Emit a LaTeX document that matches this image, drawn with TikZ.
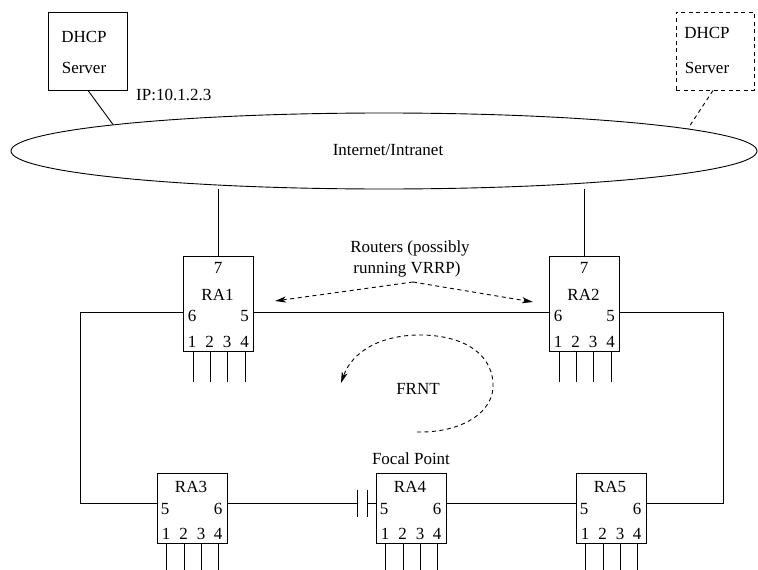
\documentclass[tikz,border=0pt]{standalone}
\usepackage{fontspec}
\setmainfont{Liberation Serif}
\usetikzlibrary{shapes.geometric,arrows.meta,calc}

\tikzset{
  every node/.style={inner sep=0pt, font=\fontsize{17}{20}\selectfont},
  wire/.style={line width=0.9pt},
  dashwire/.style={line width=0.9pt, dash pattern=on 4pt off 3.5pt},
  rbox/.style={draw, line width=0.9pt, minimum width=70pt, anchor=north west},
  lbl/.style={text height=11.4pt, text depth=0pt, anchor=center},
  tip/.style={-{Stealth[length=11pt,width=6pt,inset=3pt]}},
}

% top router: name, left, top, label
\newcommand{\toprouter}[4]{%
  \node[rbox, minimum height=95pt] (#1) at (#2,#3) {};
  \node[lbl] (#1-7) at ($(#1.north west)+(35,11.5)$) {7};
  \node[lbl] (#1-n) at ($(#1.north west)+(34.5,38.5)$) {#4};
  \node[lbl] (#1-6) at ($(#1.north west)+(9,60)$) {6};
  \node[lbl] (#1-5) at ($(#1.north west)+(61.5,60)$) {5};
  \node[lbl] (#1-d1) at ($(#1.north west)+(9,85.5)$) {1};
  \node[lbl] (#1-d2) at ($(#1.north west)+(26.5,85.5)$) {2};
  \node[lbl] (#1-d3) at ($(#1.north west)+(44,85.5)$) {3};
  \node[lbl] (#1-d4) at ($(#1.north west)+(61.5,85.5)$) {4};
  \coordinate (#1p6) at ($(#1.north west)+(0,56)$);
  \coordinate (#1p5) at ($(#1.north east)+(0,56)$);
  \foreach \px in {10,27,44,62}{\draw[wire] ($(#1.south west)+(\px,0)$) -- ++(0,30);}
}
% bottom router: name, left, top, label
\newcommand{\botrouter}[4]{%
  \node[rbox, minimum height=70pt] (#1) at (#2,#3) {};
  \node[lbl] (#1-n) at ($(#1.north west)+(34,14)$) {#4};
  \node[lbl] (#1-5) at ($(#1.north west)+(8,36)$) {5};
  \node[lbl] (#1-6) at ($(#1.north west)+(61,36)$) {6};
  \node[lbl] (#1-d1) at ($(#1.north west)+(9,61)$) {1};
  \node[lbl] (#1-d2) at ($(#1.north west)+(26.5,61)$) {2};
  \node[lbl] (#1-d3) at ($(#1.north west)+(44,61)$) {3};
  \node[lbl] (#1-d4) at ($(#1.north west)+(61,61)$) {4};
  \coordinate (#1p5) at ($(#1.north west)+(0,30)$);
  \coordinate (#1p6) at ($(#1.north east)+(0,30)$);
  \foreach \px in {9,27,44,61}{\draw[wire] ($(#1.south west)+(\px,0)$) -- ++(0,28);}
}

\begin{document}
\begin{tikzpicture}[x=1pt,y=-1pt]
\useasboundingbox (0,0) rectangle (758,570);

% network cloud
\node[ellipse, draw, line width=0.9pt, minimum width=746pt, minimum height=76pt] (net) at (384,151) {};
\node[lbl] (nettext) at (388,150) {Internet/Intranet};
\coordinate (netl) at ($(net.center)+(-271,-26.5)$);
\coordinate (netr) at ($(net.center)+(304,-22.5)$);

% DHCP servers
\node[draw, line width=0.9pt, minimum width=79pt, minimum height=78pt] (dhcp1) at (87.5,51) {};
\node[align=center, font=\fontsize{17}{31}\selectfont] (dhcp1t) at (84,52.5) {DHCP\\Server};
\node[draw, dashwire, minimum width=78pt, minimum height=78pt] (dhcp2) at (715,51) {};
\node[align=center, font=\fontsize{17}{35}\selectfont] (dhcp2t) at (707,50) {DHCP\\Server};
\node[anchor=base west] (ip) at (136,100) {IP:10.1.2.3};

\draw[wire] ($(dhcp1.south)+(0.5,0)$) -- (netl);
\draw[dashwire] ($(dhcp2.south)+(-2,0)$) -- (netr);

% routers
\toprouter{ra1}{183}{256}{RA1}
\toprouter{ra2}{549}{256}{RA2}
\botrouter{ra3}{157}{473}{RA3}
\botrouter{ra4}{376}{473}{RA4}
\botrouter{ra5}{576}{473}{RA5}

\draw[wire] (ra1.north) -- (ra1.north |- net.south);
\draw[wire] (ra2.north) -- (ra2.north |- net.south);

% ring
\coordinate (cl) at (80,0);
\coordinate (cr) at (723,0);
\draw[wire] (ra1p5) -- (ra2p6);
\draw[wire] (ra1p6) -- (cl |- ra1p6) -- (cl |- ra3p5) -- (ra3p5);
\draw[wire] (ra2p5) -- (cr |- ra2p5) -- (cr |- ra5p6) -- (ra5p6);
\coordinate (cap1) at (357.5,503);
\coordinate (cap2) at (367,503);
\draw[wire] (ra3p6) -- (cap1);
\draw[wire] ($(cap1)+(0,-13.5)$) -- ($(cap1)+(0,13.5)$);
\draw[wire] ($(cap2)+(0,-13.5)$) -- ($(cap2)+(0,13.5)$);
\draw[wire] (cap2) -- (ra4p5);
\draw[wire] (ra4p6) -- (ra5p5);

\node[lbl] (focal) at (411,459) {Focal Point};

% routers label and arrows
\node[anchor=base] (rt1) at (410,252) {Routers (possibly};
\node[anchor=base] (rt2) at (407,273) {running VRRP)};
\coordinate (apex) at (413,282);
\coordinate (tipl) at (275,301);
\coordinate (tipr) at (533,302);
\draw[dashwire, tip] (apex) -- (tipl);
\draw[dashwire, tip] (apex) -- (tipr);

% FRNT
\node[lbl] (frnt) at (418,389) {FRNT};
\coordinate (fs) at (417,432);
\coordinate (fr) at (493,383);
\coordinate (ft) at (420,335);
\coordinate (fe) at (341,383);
\draw[dashwire, tip] (fs) .. controls (462,433) and (495,412) .. (fr)
  .. controls (491,350) and (458,335) .. (ft)
  .. controls (380,335) and (352,352) .. (fe);
\end{tikzpicture}
\end{document}
